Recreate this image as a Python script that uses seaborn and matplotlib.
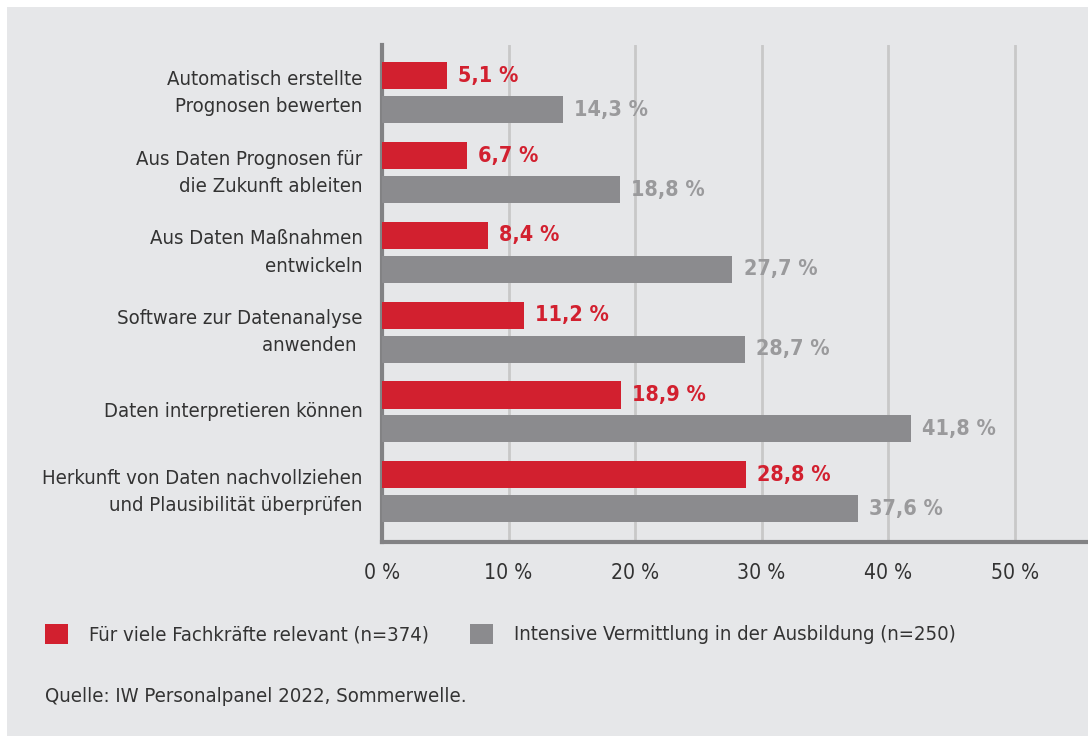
import numpy as np
import pandas as pd
import matplotlib.pyplot as plt
import seaborn as sns
from matplotlib.patches import Rectangle, Patch

# Data
categories = [
    "Automatisch erstellte\nPrognosen bewerten",
    "Aus Daten Prognosen für\ndie Zukunft ableiten",
    "Aus Daten Maßnahmen\nentwickeln",
    "Software zur Datenanalyse\nanwenden ",
    "Daten interpretieren können",
    "Herkunft von Daten nachvollziehen\nund Plausibilität überprüfen",
]
relevant = [5.1, 6.7, 8.4, 11.2, 18.9, 28.8]
ausbildung = [14.3, 18.8, 27.7, 28.7, 41.8, 37.6]
series = ["Für viele Fachkräfte relevant (n=374)",
          "Intensive Vermittlung in der Ausbildung (n=250)"]
x_ticks = [0, 10, 20, 30, 40, 50]

red = "#d2202f"
grey = "#8b8b8e"
grey_text = "#9a9a9c"
bg = "#e6e7e9"
dark = "#333333"

df = pd.DataFrame({
    "Kategorie": categories * 2,
    "Wert": relevant + ausbildung,
    "Reihe": [series[0]] * len(categories) + [series[1]] * len(categories),
})

sns.set_style("white")
plt.rcParams["font.family"] = ["DejaVu Sans"]
plt.rcParams["font.stretch"] = "condensed"
fs = 14.6

fig = plt.figure(figsize=(10.88, 7.36), dpi=100)
fig.patch.set_facecolor("white")
fig.patches.append(Rectangle((7 / 1088, 0), 1, 1 - 7 / 736, transform=fig.transFigure,
                             facecolor=bg, edgecolor="none", zorder=-10))

ax = fig.add_axes([382 / 1088, 1 - 542 / 736, 1 - 382 / 1088, (542 - 45) / 736])
ax.set_facecolor("none")

sns.barplot(data=df, y="Kategorie", x="Wert", hue="Reihe", orient="h",
            palette=[red, grey], width=0.85, gap=0.2, legend=False, ax=ax,
            saturation=1, linewidth=0, zorder=3)

ax.set_xlim(0, 55.8)
ax.set_ylim(5.63, -0.6)
ax.set_xticks(x_ticks)
ax.set_xticklabels([f"{t} %" for t in x_ticks], color=dark, fontsize=15.2)
ax.set_xlabel("")
ax.set_ylabel("")
ax.tick_params(axis="x", length=0, pad=15)
ax.tick_params(axis="y", length=0, pad=14, labelsize=fs, labelcolor=dark)
for lbl in ax.get_yticklabels():
    lbl.set_linespacing(1.55)
    lbl.set_va("center")

ax.grid(axis="x", color="#c8c8c8", linewidth=2, zorder=0)
ax.grid(axis="y", visible=False)
for s in ["top", "right"]:
    ax.spines[s].set_visible(False)
ax.spines["left"].set_color("#828284")
ax.spines["left"].set_linewidth(3)
ax.spines["bottom"].set_color("#828284")
ax.spines["bottom"].set_linewidth(3)

vals = [relevant, ausbildung]
cols = [red, grey_text]
for cont, v, c in zip(ax.containers, vals, cols):
    ax.bar_label(cont, labels=[f"{x:.1f} %".replace(".", ",") for x in v],
                 padding=8, color=c, fontsize=15.5, fontweight="bold")

handles = [Patch(facecolor=red, edgecolor="none"), Patch(facecolor=grey, edgecolor="none")]
fig.legend(handles, series, loc="center left", bbox_to_anchor=(45 / 1088, 1 - 634 / 736),
           ncol=2, frameon=False, fontsize=fs, handlelength=1.15, handleheight=1.15,
           handletextpad=1.0, columnspacing=2.05, labelcolor=dark,
           borderpad=0, borderaxespad=0)

fig.text(45 / 1088, 1 - 697 / 736, "Quelle: IW Personalpanel 2022, Sommerwelle.",
         fontsize=fs, color=dark, va="center", ha="left")

fig.savefig("out.png", dpi=100, facecolor=fig.get_facecolor())
